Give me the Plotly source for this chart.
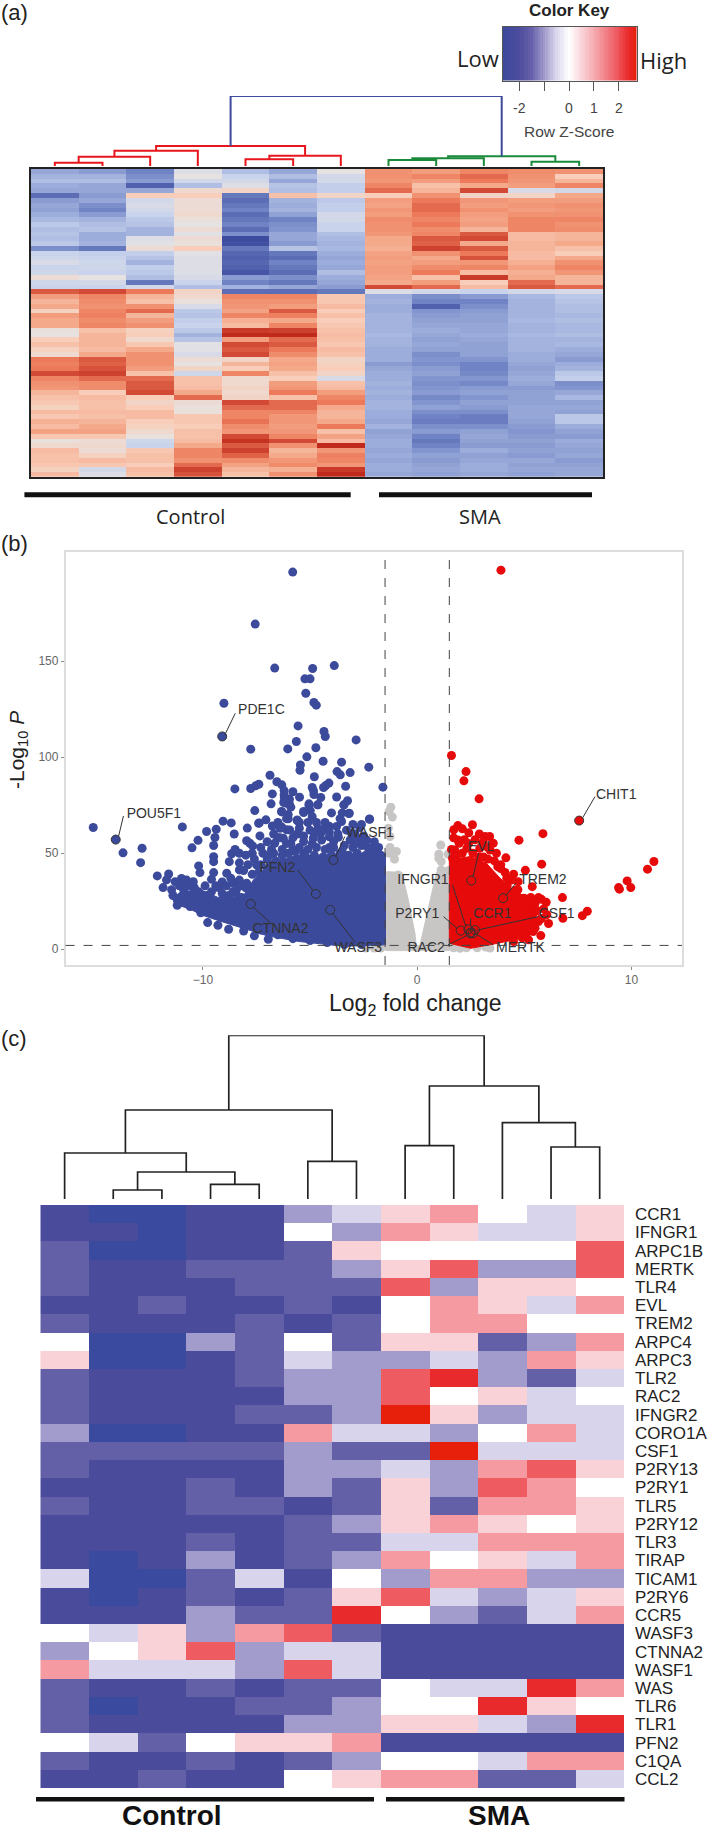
import plotly.graph_objects as go

W, H = 709, 1832

# ---------- panel (a) heat map values, row z-score x10, 12 samples ----------
a_rows = [
 [-14,-16,-20,-2,-10,-14,0,16,14,18,17,16],
 [-12,-12,-18,0,-6,-10,-4,16,18,22,16,6],
 [-10,-10,-16,-4,-4,-14,-4,15,14,20,15,10],
 [-13,-14,-26,-10,-2,-9,-7,18,8,12,14,18],
 [-14,-14,-14,3,4,-10,-7,22,10,26,-3,-4],
 [-24,-16,6,6,-22,8,4,6,16,4,4,12],
 [-16,-14,-4,2,-24,-12,-8,14,20,15,14,14],
 [-14,-18,-3,2,-22,-13,-7,13,22,14,15,16],
 [-15,-20,-4,2,-20,-12,-7,15,22,16,14,15],
 [-13,-16,-6,3,-24,-15,-4,14,20,14,16,16],
 [-11,-12,-8,1,-22,-20,-4,17,18,13,18,18],
 [-8,-10,-9,0,-20,-18,-6,16,20,14,18,16],
 [-10,-9,-12,2,-24,-17,-6,16,17,10,18,17],
 [-9,-13,-12,-1,-18,-14,-10,15,18,24,9,10],
 [-10,-13,-2,2,-30,-14,-11,12,24,26,9,10],
 [-8,-12,-1,1,-29,-16,-12,12,23,12,10,12],
 [-18,-22,2,6,-22,-9,-11,11,27,24,10,8],
 [-6,-7,-7,-1,-25,-22,-13,13,16,20,9,6],
 [-5,-6,-9,-2,-26,-24,-14,14,12,25,9,12],
 [-3,-5,-12,-2,-25,-20,-13,13,14,15,11,16],
 [-6,-5,-7,-2,-26,-22,-14,14,17,18,13,18],
 [-5,-6,-8,-2,-28,-24,-10,14,20,9,11,15],
 [2,0,-10,-3,-16,-18,-13,13,8,28,12,10],
 [-5,-4,-22,-6,-20,-22,-14,12,14,6,22,10],
 [-6,-6,-4,-10,-12,-14,-16,26,22,9,24,22],
 [24,26,20,4,-24,-24,-22,-2,-4,-6,-4,-3],
 [14,18,10,3,18,18,7,-13,-18,-16,-11,-8],
 [10,17,8,1,16,16,7,-12,-20,-20,-12,-9],
 [12,16,16,-3,15,14,9,-13,-26,-18,-12,-10],
 [5,18,22,-8,13,24,6,-13,-17,-16,-12,-10],
 [14,19,10,-9,18,19,8,-12,-16,-15,-12,-11],
 [12,17,14,-7,11,12,6,-12,-15,-15,-11,-10],
 [12,18,16,-6,9,18,7,-12,-14,-14,-12,-11],
 [1,8,5,-8,28,27,8,-12,-13,-14,-12,-11],
 [0,10,6,-12,30,30,9,-11,-14,-13,-11,-10],
 [6,10,3,-9,14,22,8,-12,-15,-14,-12,-12],
 [8,10,7,-1,26,24,7,-12,-14,-15,-12,-11],
 [5,9,12,-1,24,20,9,-13,-15,-15,-12,-13],
 [3,12,16,-3,26,17,8,-13,-18,-15,-13,-14],
 [20,24,16,2,4,12,4,-13,-17,-17,-13,-16],
 [19,23,16,0,10,13,5,-16,-18,-20,-14,-13],
 [20,25,14,4,6,12,6,-14,-16,-20,-15,-12],
 [26,27,8,-5,18,8,4,-13,-15,-19,-14,-8],
 [18,22,22,8,3,6,-3,-13,-17,-17,-13,-7],
 [16,17,24,8,3,14,8,-12,-18,-19,-14,-18],
 [15,17,24,9,4,15,9,-13,-17,-16,-16,-17],
 [10,6,26,12,3,20,14,-12,-16,-15,-15,-14],
 [8,9,6,22,4,8,18,-13,-19,-17,-15,-11],
 [7,8,4,2,26,22,20,-12,-17,-15,-15,-15],
 [5,8,6,1,22,22,12,-12,-15,-16,-14,-14],
 [9,9,9,1,18,18,10,-13,-18,-18,-14,-15],
 [7,8,9,7,18,15,10,-13,-20,-21,-14,-8],
 [11,10,6,7,21,15,12,-14,-21,-21,-15,-8],
 [9,12,5,6,17,14,20,-12,-18,-18,-16,-13],
 [13,13,3,8,15,15,8,-15,-16,-15,-17,-15],
 [7,7,1,8,26,18,13,-14,-20,-14,-16,-16],
 [1,2,-5,9,29,26,9,-13,-22,-15,-15,-13],
 [3,3,-6,12,24,16,30,-13,-20,-16,-16,-14],
 [9,2,7,18,27,10,15,-14,-17,-13,-15,-15],
 [8,5,8,18,23,12,19,-13,-15,-15,-16,-14],
 [8,9,8,16,17,15,18,-14,-16,-14,-14,-16],
 [7,7,6,22,13,17,15,-13,-15,-13,-15,-15],
 [5,-4,9,27,10,11,28,-13,-14,-13,-14,-14],
 [9,-2,8,25,8,16,30,-14,-15,-14,-15,-14],
]
a_scale = [[0,"#3d4a9e"],[0.1667,"#7083c4"],[0.3,"#a3b3de"],[0.4,"#c9d3ec"],[0.5,"#e6e2e2"],
           [0.6,"#f8cdb9"],[0.7,"#f4a98a"],[0.8333,"#ec7a5a"],[1,"#c02a1c"]]

# dendrograms: (height, left, right), integers are 1-based columns
a_red = (20,(15.3,(9.3,(3.3,1,2),3),4),(10.3,(6.7,5,6),7))
a_green = (9.7,(7.7,(6,8,9),10),(4.3,11,12))
a_top_height = 70
c_tree = (163.7,
          (89,(46,1,(27,(9,2,3),(14.7,4,5))),(37.7,6,7)),
          (113,(53.3,8,9),(76.3,10,(52,11,12))))

# ---------- colour key ----------
key_values = [v/10 for v in range(-27,28)]
key_ticks = [-2,0,1,2]
key_ticklabels = ["-2","0","1","2"]
key_minor_ticks = [-1]
key_scale = [[0,"#3B4A9C"],[0.12,"#4A4B9C"],[0.22,"#6560A9"],[0.32,"#A29CCD"],[0.4,"#D8D4EB"],[0.5,"#FFFFFF"],
             [0.6,"#F9D2D7"],[0.72,"#F49AA0"],[0.85,"#EE5C62"],[0.94,"#E92A2C"],[1,"#E7200B"]]

# ---------- panel (b) volcano ----------
blue_x = [-5.81,-7.56,-6.65,-4.88,-3.87,-5.24,-5.0,-5.2,-9.02,-4.82,-4.71,-9.1,-5.56,-4.35,-4.29,-5.64,-2.85,-6.04,-7.77,-4.73,
 -5.15,-4.39,-3.53,-5.45,-5.47,-2.26,-3.74,-3.59,-3.13,-6.87,-4.8,-6.55,-7.39,-7.54,-7.77,-8.51,-6.32,-6.21,-4.9,-4.84,
 -4.37,-4.27,-4.12,-3.34,-1.6,-6.76,-4.82,-3.76,-5.49,-6.21,-5.96,-6.23,-6.82,-5.96,-3.25,-3.42,-4.63,-5.05,-4.99,-5.3,
 -7.58,-6.32,-6.02,-6.02,-3.19,-2.22,-9.06,-8.68,-7.06,-7.37,-5.6,-10.96,-15.12,-14.07,-13.73,-12.84,-12.91,
 -9.83,-9.38,-10.23,-9.44,-10.51,-9.5,-8.54,-7.93,-7.34,-7.4,-6.76,-6.32,-6.09,-7.96,-7.81,-7.68,-8.5,-8.66,-8.77,-8.89,-8.3,
 -9.5,-9.5,-10.2,-10.14,-9.5,-9.6,-9.33,-12.13,-11.6,-11.7,-11.86,-11.46,-11.2,-11.2,-11.3,-11,-10.76,-10.45,-10.92,-10.6,-10.1,
 -9.78,-9.3,-8.8,-8.1,-7.6,-6.95,-8.46,-8.58,-7.96,-8.2,
 -4.65,-5.05,-5.3,-6.33,-6.1,-5.6,-3.17,-3.42,-2.23,-3.53,-3.76,-2.68,-3.06,-2.36,-2.75,-3.13,-3.68,-4.1,-4.46,-4.85,-5.3,
 -4.62,-4.5,-5.7,-6,-6.25,-6.65,-5.5,-5.95,-6.4,
 -2,-2.4,-2.8,-3.2,-3.6,-4,-4.4,-4.8,-5.2,-5.6,-1.7,-1.9,-2.1,-2.6,-3,-3.4,-3.9,-4.3,-4.7,-5.1,-5.5,-5.9,-6.3,-6.7,-7,-7.3,-7,
 -6.6,-6.2,-5.8,-5.4,-5,-4.6,-4.2,-3.8,-3.4,-3,-6.8,-7.4,
 -10.9,-10.3,-9.9,-9.3,-9.9,-9.2,-8.6,-8,-7.3,-6.5,-5.8,-5,-4.2,-3.4,-2.6,-10.7,-10.4,-9.8,-9.2,-8.6,-8.2,-7.8,-7.3,-6.9,
 -6.8,-6.5,-6.1,-5.8,-5.6,-5.3,-5,-4.8,-4.4,-4.1,-3.9,-3.7,-3.3,-2.9,-2.5,-2,-1.8,-2.3,-2.9,-3.5,-4.1,-4.9,-5.3,-5.8,-6.3,-6.9,
 -7.2,-7.6,-7.9,-8.3,-8.1,-7.7,-8.7,-9.1,-9.4,-8.9,-8.3,-7.5,-7.3,-7.7,-8,-8.3,-7,-6.7,-6.4,-5.5,-5.1,-4.7,-4.3,-4.1,-3.6,-3,-2.6,
 -4.9,-6.1,-6.5,-5.9,-6.2,-5.8,-4.5,-4,-3.5,
 -11.1,-10.9,-10.4,-10.2,-9.9,-9.6,-9.1,-8.8,-8.4,-8,-10.6,-11.4,-10.9]
blue_y = [196.4,169.3,146.4,146.2,147.7,140.8,140.8,133.3,128.1,128.5,127.1,110.8,116.3,113.4,110.8,108.2,109,104.3,104.2,104.9,
 100.2,97.9,97.4,96,93.2,94.8,92.5,90.8,92,90.6,89.8,87.2,85.9,85.1,83.7,83.5,85.6,82.6,84.2,82.6,
 84.2,85.2,86.5,84.9,84.4,80.9,80.6,79.3,79.2,80.4,78.1,76.4,75.7,75.5,77.3,75.2,75.2,74.8,72.2,71.2,
 72.2,71.5,70.1,67.9,70.7,67.7,66.7,65.8,67.4,65.8,67,63.7,63.4,57.1,50.2,52.6,45.1,
 61.3,62.5,56.7,58.2,52.8,54,60,63.1,59,65.6,64.2,63.6,62.2,56.5,55.2,53.8,52,49.7,45.6,39.6,41.3,
 48.2,45.6,43.4,39.9,39.9,36.4,32.3,38.2,39.2,36.1,32.1,31,25.7,22.9,35.2,36.9,36,35.2,28.3,22.2,19,
 13.9,12.5,10.4,9.5,7,5.2,30,34.4,34.4,33,
 75.2,75.7,71.7,71.7,76,67.3,70.8,75.2,67.8,66.5,63.9,63.4,60.4,56.9,56.9,56.9,58.3,58.6,56.9,57.8,56.1,
 63,60.4,50.8,50,57.8,55.2,63,62.1,63,
 50,49,50,49,50,49,48,49,48,47,49,47,52,54,53,54,53,52,53,52,53,55,52,50,47,44,42,
 46,44,46,44,46,45,46,46,46,47,44,40,
 26,26,25,24,21,19,16,13,10,7.5,5.5,4.5,3.5,2.5,2.5,25,29,28,32,30,27,30,33,35,
 52,58,55,58,60,59,62,60,62,61,56,60,62,60,59,56,53,53,55,51,53,55,50,52,49,49,
 50,47,44,45,41,39,37,35,33,33,36,44,53,50,49,50,56,60,58,66,66,66,66,64,68,65,65,
 69,68,66,74,79,82,79,71,71,
 33,31,32,30,33,30,29,28,32,32,33,28,33.5]
blue_mass_x = [-1.48,-1.48,-3,-4.6,-5.5,-6.7,-7.3,-7.65,-8.1,-9.3,-10.1,-11,-11.4,-11.2,-10.6,-10.1,-9.3,-8.1,-7,-5.5,-3.4,-1.48]
blue_mass_y = [2.3,50,50,49,49,46,40,36,28,27,31,30,27,23,21,18,15,11,7,4,1.5,2.3]

red_x = [3.91,1.6,2.28,2.18,2.89,7.56,5.87,4.75,5.81,4.14,5.05,4.5,11.05,10.75,9.8,9.97,9.4,9.44,7.94,7.71,6.78,6.8,6.02,6.13,5.77,5.41,
 5.66,5.37,1.71,1.9,2.11,2.58,2.41,1.9,1.96,3.17,3.38,3.08,3.55,3.4,2.92,2.32,1.75,1.65,3.76,4.18,4.71,4.6,4.98,5.45,5.24,5.66,4.82,4.18,4.5,5.03,4.92,5.2,
 1.6,1.8,2.1,2.4,2.6,2.9,3.1,3.3,3.6,3.9,4.1,4.4,4.2,4.5,4.7,5,5.3,5.5,5.8,5.6,5.9,5.4,5.1,5.5,4.9,4.5,4.2,3.9,2.2,2.7,1.7,2.9,3.3,3.7,2.1,6.05,5.8]
red_y = [197.4,100.9,92.5,87.7,78.3,67,60.2,56.8,44.3,47.6,41.1,39.1,45.7,41.7,35.6,32.1,32.1,31.3,19.8,17.5,26.9,16.1,24.5,13.4,7.1,9.2,
 26.9,32.6,62.2,64.4,62.7,64.8,60.6,56.9,55.2,58.7,58.7,56,55.2,51.7,52.6,52.6,51.7,47.4,43,37,35.2,30.9,26.6,22.2,18.8,14.4,15.3,22.2,24,20.5,10,4.9,
 52,48,50,55,50,48,48,47,46,42,40,36,33,29,31,24,27,24,26,20,21,15,13,11,6,4,28,44,57,57,58,60,53,50,45,18,16]
red_mass_x = [1.5,1.5,2.49,3.23,3.87,4.29,5.03,5.66,5.56,5.24,3.76,2.5,1.5]
red_mass_y = [3.1,46.5,48.3,44.8,37,32.6,27.4,24,17,6.6,3.1,0.5,3.1]

grey_x = [-1.23,-1.16,-1.31,-1.35,-1.27,-1.27,-0.97,-1.06,-1.31,1.1,1.01,1.44,1.12,1.01,1.12,-0.89,-0.78,-0.68,
 1.86,2.3,2.8,3.2,3.4,2,1.7,-2,-2.4,-1.7]
grey_y = [74,68.8,71.7,63,58.7,53,50.9,46.9,50,54.3,49.5,49.5,45.7,47.4,41.3,38.7,30.9,25.7,
 1.4,0.8,0.8,1.2,0.6,0.5,0.8,0.6,0.6,0.6]
grey_mass_x = [-1.48,-1.42,-0.72,-0.42,-0.1,-0.05,0.13,0.6,0.9,1.01,1.44,1.5,-1.48]
grey_mass_y = [-0.7,40.4,40,26,8,2,2,25.7,40,41.3,43,-0.7,-0.7]

gene_labels = ["PDE1C","POU5F1","CHIT1","WASF1","PFN2","CTNNA2","WASF3","IFNGR1","P2RY1","RAC2","EVL","TREM2","CCR1","CSF1","MERTK"]
gene_label_x = [-7.27,-12.29,9.29,-2.2,-6.53,-6.38,-2.75,0.27,0,0.42,2.98,5.87,3.51,6.51,4.82]
gene_label_y = [124.1,70.1,80.2,60.1,42.2,10.1,0.2,35.6,17.9,0.2,53,35.6,17.9,17.9,0.2]
gene_x = [-9.1,-14.07,7.56,-3.91,-4.73,-7.77,-4.06,2.49,2.03,2.49,2.53,4.01,2.39,2.7,2.6]
gene_y = [110.8,57.1,67,46.5,28.8,23.6,20.5,8.7,9.7,8.3,35.8,26.6,10.4,10,8.3]
leader_from_x = [-8.49,-13.71,8.3,-3.38,-5.58,-6.8,-2.89,1.65,1.23,1.44,2.87,4.6,2.49,5.66,3.55]
leader_from_y = [122.9,69.4,79.5,58.7,41.3,13.2,3.5,33.5,17,2.3,50,34.4,16.1,17,2.3]
leader_to_x = [-8.98,-13.94,7.71,-3.8,-4.86,-7.65,-3.95,2.28,1.86,2.39,2.6,4.14,2.49,2.81,2.7]
leader_to_y = [111.6,58.7,68.2,48.3,30.6,21.9,18.8,11.5,10.9,7.5,37.5,28,11.8,10,8.3]

# ---------- panel (c) heat map, discrete levels ----------
A,B,C,D,E,O,P,Q,R,S,T = -5,-4,-3,-2,-1,0,1,2,3,4,5
c_genes = ["CCR1","IFNGR1","ARPC1B","MERTK","TLR4","EVL","TREM2","ARPC4","ARPC3","TLR2","RAC2","IFNGR2","CORO1A","CSF1",
 "P2RY13","P2RY1","TLR5","P2RY12","TLR3","TIRAP","TICAM1","P2RY6","CCR5","WASF3","CTNNA2","WASF1","WAS","TLR6","TLR1","PFN2","C1QA","CCL2"]
c_rows = [
 [B,A,A,B,B,D,E,P,Q,O,E,P],
 [B,B,A,B,B,O,D,Q,P,E,E,P],
 [C,A,A,B,B,C,P,O,O,O,O,R],
 [C,B,B,C,C,C,D,P,R,D,D,R],
 [C,B,B,B,C,C,C,R,D,P,P,O],
 [B,B,C,B,B,C,B,O,Q,P,E,Q],
 [C,B,B,B,C,B,C,O,Q,Q,O,O],
 [O,A,A,D,C,O,C,P,P,C,D,Q],
 [P,A,A,B,C,E,D,D,E,D,Q,P],
 [C,B,B,B,C,D,D,R,S,D,C,E],
 [C,B,B,B,B,D,D,R,O,P,E,O],
 [C,B,B,B,C,C,D,T,P,D,E,E],
 [D,A,A,B,B,Q,E,E,D,O,Q,E],
 [C,C,C,C,C,D,C,C,T,E,E,E],
 [C,B,B,B,B,D,D,E,D,Q,R,P],
 [B,B,B,C,B,D,C,P,D,R,Q,O],
 [C,B,B,C,C,B,C,P,C,Q,Q,P],
 [B,B,B,B,B,C,D,P,Q,P,O,P],
 [B,B,B,C,B,C,C,E,E,Q,Q,Q],
 [B,A,B,D,B,C,D,Q,O,P,E,Q],
 [E,A,A,C,E,B,O,D,Q,Q,D,D],
 [B,A,B,C,B,C,P,R,E,D,E,P],
 [B,B,B,D,C,C,S,O,D,C,E,Q],
 [O,E,P,D,Q,R,C,B,B,B,B,B],
 [D,O,P,R,D,E,E,B,B,B,B,B],
 [Q,E,E,E,D,R,E,B,B,B,B,B],
 [C,B,B,C,B,C,C,O,E,E,S,Q],
 [C,A,B,B,C,C,D,O,O,S,P,O],
 [C,B,B,B,B,D,D,P,P,E,D,S],
 [O,E,C,O,P,P,Q,B,B,B,B,B],
 [C,B,B,C,B,C,D,O,O,E,Q,Q],
 [B,B,C,B,B,O,P,Q,Q,C,C,E],
]
c_colors = ["#3A4A9E","#4A4B9B","#6460A8","#A29CCD","#D8D4EB","#FFFFFF","#F9D2D7","#F49AA0","#EE5C62","#E92A2C","#E7200B"]
c_scale = [[i/10, col] for i, col in enumerate(c_colors)]

FONT = "Liberation Sans"
def px(x): return x / W
def py(y): return 1 - y / H
def dom_x(a, b): return [px(a), px(b)]
def dom_y(top, bottom): return [py(bottom), py(top)]

def tree_lines(node):
    """Returns x, y, centre and height of a dendrogram built from nested merges."""
    if isinstance(node, int):
        return [], [], node - 0.5, 0
    h, left, right = node
    lx, ly, lc, lh = tree_lines(left)
    rx, ry, rc, rh = tree_lines(right)
    xs = lx + rx + [lc, lc, rc, rc, None]
    ys = ly + ry + [lh, h, h, rh, None]
    return xs, ys, (lc + rc) / 2, h

fig = go.Figure()

# panel a
fig.add_trace(go.Heatmap(z=a_rows, zmin=-30, zmax=30, colorscale=a_scale, showscale=False,
                         x=[i + 0.5 for i in range(12)], xaxis="x", yaxis="y", hoverinfo="skip"))
rx, ry, rc, rh = tree_lines(a_red)
gx, gy, gc, gh = tree_lines(a_green)
fig.add_trace(go.Scatter(x=rx, y=ry, mode="lines", line=dict(color="#E8161C", width=2), xaxis="x2", yaxis="y2"))
fig.add_trace(go.Scatter(x=gx, y=gy, mode="lines", line=dict(color="#1A8A3A", width=2), xaxis="x2", yaxis="y2"))
fig.add_trace(go.Scatter(x=[rc, rc, gc, gc], y=[rh, a_top_height, a_top_height, gh], mode="lines",
                         line=dict(color="#3D4A9E", width=2), xaxis="x2", yaxis="y2"))
fig.add_trace(go.Heatmap(z=[key_values], x=key_values, y=[0], zmin=-2.7, zmax=2.7, colorscale=key_scale,
                         showscale=False, xaxis="x3", yaxis="y3", hoverinfo="skip"))

# panel b
BLUE, RED, GREY = "#3C4A9C", "#E60A0A", "#C8C5C5"
def mass(x, y, col):
    fig.add_trace(go.Scatter(x=x, y=y, mode="lines", fill="toself", fillcolor=col, line=dict(color=col, width=1),
                             xaxis="x4", yaxis="y4"))
def dots(x, y, col):
    fig.add_trace(go.Scatter(x=x, y=y, mode="markers", marker=dict(color=col, size=9, line=dict(width=0)),
                             xaxis="x4", yaxis="y4"))
mass(grey_mass_x, grey_mass_y, GREY); dots(grey_x, grey_y, GREY)
mass(blue_mass_x, blue_mass_y, BLUE); dots(blue_x, blue_y, BLUE)
mass(red_mass_x, red_mass_y, RED); dots(red_x, red_y, RED)
fig.add_trace(go.Scatter(x=gene_x, y=gene_y, mode="markers",
                         marker=dict(color="rgba(0,0,0,0)", size=9, line=dict(color="#333", width=1)),
                         xaxis="x4", yaxis="y4"))
lx, ly = [], []
for a, b, c, d in zip(leader_from_x, leader_from_y, leader_to_x, leader_to_y):
    lx += [a, c, None]; ly += [b, d, None]
fig.add_trace(go.Scatter(x=lx, y=ly, mode="lines", line=dict(color="#333", width=1), xaxis="x4", yaxis="y4"))
fig.add_trace(go.Scatter(x=gene_label_x, y=gene_label_y, mode="text", text=gene_labels,
                         textfont=dict(family=FONT, size=14, color="#333"), xaxis="x4", yaxis="y4"))

# panel c
tx, ty, tc, th = tree_lines(c_tree)
fig.add_trace(go.Scatter(x=tx, y=ty, mode="lines", line=dict(color="#222", width=1.7), xaxis="x5", yaxis="y5"))
fig.add_trace(go.Heatmap(z=c_rows, zmin=-5, zmax=5, colorscale=c_scale, showscale=False,
                         x=[i + 0.5 for i in range(12)], y=list(range(32)), xaxis="x6", yaxis="y6", hoverinfo="skip"))

hidden = dict(visible=False, fixedrange=True)
dashed = dict(color="#444", width=1, dash="dash")
shapes = [
    dict(type="line", xref="x4", yref="paper", x0=-1.5, x1=-1.5, y0=py(965), y1=py(551.7), line=dashed),
    dict(type="line", xref="x4", yref="paper", x0=1.5, x1=1.5, y0=py(965), y1=py(551.7), line=dashed),
    dict(type="line", xref="paper", yref="y4", x0=px(65.6), x1=px(682), y0=2, y1=2, line=dashed),
]
for x0, x1, y, t in [(24.4,350.7,494.7,5),(379,592,494.7,5),(36,374,1799.3,4.5),(386,624.5,1799.3,4.5)]:
    shapes.append(dict(type="line", xref="paper", yref="paper", x0=px(x0), x1=px(x1), y0=py(y), y1=py(y),
                       line=dict(color="#111", width=t)))

def note(text, x, y, size, color="#222", family=FONT, angle=0):
    return dict(text=text, x=px(x), y=py(y), xref="paper", yref="paper", showarrow=False, xanchor="center",
                yanchor="middle", font=dict(family=family, size=size, color=color), textangle=angle)

anns = [
    note("(a)", 14, 13, 22), note("(b)", 14, 543, 22), note("(c)", 14, 1038, 22),
    note("<b>Color Key</b>", 569, 11, 17),
    note("Low", 478, 58, 22, family="Open Sans"), note("High", 663, 60, 22, family="Open Sans"),
    note("Row Z-Score", 569, 131, 15.5, color="#444"),
    note("Control", 190, 517, 20, family="Open Sans"), note("SMA", 480, 517, 20, family="Open Sans"),
    note("-Log<sub>10</sub> <i>P</i>", 18, 750, 21, angle=-90),
    note("Log<sub>2</sub> fold change", 415, 1004, 23),
    note("<b>Control</b>", 172, 1815, 28, color="#111"), note("<b>SMA</b>", 498.6, 1815, 28, color="#111"),
]

fig.update_layout(
    width=W, height=H, margin=dict(l=0, r=0, t=0, b=0), paper_bgcolor="white", plot_bgcolor="white",
    showlegend=False, shapes=shapes, annotations=anns, font=dict(family=FONT),
    xaxis=dict(domain=dom_x(31, 603), range=[0, 12], showticklabels=False, ticks="", showgrid=False, zeroline=False,
               showline=True, mirror=True, linecolor="#222", linewidth=2),
    yaxis=dict(domain=dom_y(169, 476.7), autorange="reversed", showticklabels=False, ticks="", showgrid=False,
               zeroline=False, showline=True, mirror=True, linecolor="#222", linewidth=2),
    xaxis2=dict(domain=dom_x(31, 603), range=[0, 12], anchor="y2", **hidden),
    yaxis2=dict(domain=dom_y(96, 166), range=[0, 70], anchor="x2", **hidden),
    xaxis3=dict(domain=dom_x(502.5, 636.5), range=[-2.67, 2.71], anchor="y3", tickmode="array", tickvals=key_ticks,
                ticktext=key_ticklabels, ticks="outside", ticklen=9, tickcolor="#555", tickwidth=1.2,
                minor=dict(tickmode="array", tickvals=key_minor_ticks, ticks="outside", ticklen=9, tickcolor="#555", tickwidth=1.2),
                tickfont=dict(family=FONT, size=14, color="#444"), showline=True, mirror=True, linecolor="#555",
                linewidth=1.2, showgrid=False, zeroline=False, ticklabelstandoff=5),
    yaxis3=dict(domain=dom_y(26.7, 80.7), anchor="x3", showticklabels=False, ticks="", showgrid=False, zeroline=False,
                showline=True, mirror=True, linecolor="#555", linewidth=1.2),
    xaxis4=dict(domain=dom_x(65.6, 682), range=[-16.41, 12.36], anchor="y4", tickvals=[-10, 0, 10], ticks="outside",
                ticklen=3, tickcolor="#888", tickfont=dict(family=FONT, size=12, color="#666"), showline=True,
                mirror=True, linecolor="#DDD", linewidth=1.5, showgrid=False, zeroline=False),
    yaxis4=dict(domain=dom_y(551.7, 965), range=[-8.2, 207], anchor="x4", tickvals=[0, 50, 100, 150], ticks="outside",
                ticklen=3, tickcolor="#888", tickfont=dict(family=FONT, size=12, color="#666"), showline=True,
                mirror=True, linecolor="#DDD", linewidth=1.5, showgrid=False, zeroline=False),
    xaxis5=dict(domain=dom_x(40.3, 624), range=[0, 12], anchor="y5", **hidden),
    yaxis5=dict(domain=dom_y(1035.3, 1199), range=[0, 163.7], anchor="x5", **hidden),
    xaxis6=dict(domain=dom_x(40.3, 624), range=[0, 12], anchor="y6", showticklabels=False, ticks="", showgrid=False,
                zeroline=False),
    yaxis6=dict(domain=dom_y(1205, 1788.3), range=[31.5, -0.5], anchor="x6", side="right", tickmode="array",
                tickvals=list(range(32)), ticktext=c_genes, ticks="", ticklabelstandoff=10,
                tickfont=dict(family=FONT, size=17, color="#222"), showgrid=False, zeroline=False),
)

fig.write_html("out.html", config=dict(displayModeBar=False),
               post_script="document.body.style.margin='0';document.body.style.overflow='hidden';")
